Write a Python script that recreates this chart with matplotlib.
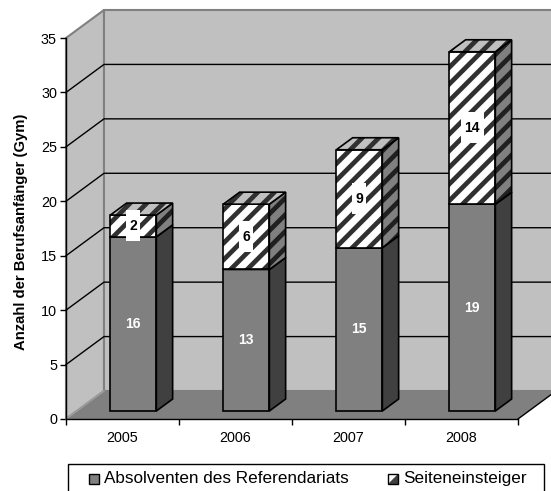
import matplotlib
matplotlib.use('Agg')
import matplotlib.pyplot as plt
from matplotlib.patches import Polygon, Rectangle

plt.rcParams['font.family'] = ['Liberation Sans', 'DejaVu Sans']
plt.rcParams['hatch.linewidth'] = 3.4

years = ['2005', '2006', '2007', '2008']
absolventen = [16, 13, 15, 19]
seiten = [2, 6, 9, 14]
yticks = [0, 5, 10, 15, 20, 25, 30, 35]
ytitle = 'Anzahl der Berufsanfänger (Gym)'
legend_labels = ['Absolventen des Referendariats', 'Seiteneinsteiger']

W, H = 551, 491
fig = plt.figure(figsize=(W / 100, H / 100), dpi=100)
L, R, B, T = 66, 518, 419, 38
ax = fig.add_axes([L / W, 1 - B / H, (R - L) / W, (B - T) / H])
ax.set_xlim(-0.5, 3.5)
ax.set_ylim(0, 35)
ax.patch.set_visible(False)
for s in ['top', 'right']:
    ax.spines[s].set_visible(False)
for s in ['left', 'bottom']:
    ax.spines[s].set_color('black')
    ax.spines[s].set_linewidth(1.0)
    ax.spines[s].set_zorder(5)

DX = 38 / ((R - L) / 4)
DY = 28 / ((B - T) / 35)
WALL = '#c0c0c0'
FLOOR = '#808080'
EDGE = '#808080'


def poly(pts, z=1, **kw):
    p = Polygon(pts, closed=True, clip_on=False, zorder=z, **kw)
    ax.add_patch(p)
    return p


# walls and floor
poly([(-0.5, 0), (-0.5, 35), (-0.5 + DX, 35 + DY), (-0.5 + DX, DY)], facecolor=WALL, edgecolor=EDGE, linewidth=1.5)
poly([(-0.5 + DX, DY), (-0.5 + DX, 35 + DY), (3.5 + DX, 35 + DY), (3.5 + DX, DY)], facecolor=WALL, edgecolor=EDGE, linewidth=1.5)
poly([(-0.5, 0), (-0.5 + DX, DY), (3.5 + DX, DY), (3.5, 0)], facecolor=FLOOR, edgecolor='none')
ax.plot([3.5, 3.5 + DX], [0, DY], color='black', lw=1.0, clip_on=False, zorder=3)
ax.plot([-0.5, -0.5 + DX], [0, DY], color='#a0a0a0', lw=1.0, clip_on=False, zorder=3)

# gridlines
for v in yticks[1:-1]:
    ax.plot([-0.5, -0.5 + DX, 3.5 + DX], [v, v + DY, v + DY], color='black', lw=1.0, clip_on=False, zorder=2)

# bars
BW = 0.407
D0 = 8 / 28
D1 = 20 / 28


def box(x, y0, y1, front, side, top, hatched):
    xl = x - BW / 2 + D0 * DX
    xr = xl + BW
    oy = D0 * DY
    ddx = (D1 - D0) * DX
    ddy = (D1 - D0) * DY
    for pts, col in [
        ([(xl, y0 + oy), (xr, y0 + oy), (xr, y1 + oy), (xl, y1 + oy)], front),
        ([(xr, y0 + oy), (xr + ddx, y0 + oy + ddy), (xr + ddx, y1 + oy + ddy), (xr, y1 + oy)], side),
        ([(xl, y1 + oy), (xr, y1 + oy), (xr + ddx, y1 + oy + ddy), (xl + ddx, y1 + oy + ddy)], top),
    ]:
        if hatched:
            poly(pts, z=4, facecolor=col[0], edgecolor=col[1], hatch='//', linewidth=0)
            poly(pts, z=4, facecolor='none', edgecolor='black', linewidth=1.2)
        else:
            poly(pts, z=4, facecolor=col, edgecolor='black', linewidth=1.2)
    return (xl + xr) / 2, oy


for i, (a, b) in enumerate(zip(absolventen, seiten)):
    cx, oy = box(i, 0, a, '#808080', '#404040', '#808080', False)
    box(i, a, a + b, ('white', '#303030'), ('#808080', '#202020'), ('#c0c0c0', '#303030'), True)
    ax.text(cx, a / 2 + oy, str(a), color='white', fontsize=10, fontweight='bold', ha='center', va='center', zorder=6)
    yc = a + b / 2 + oy
    bw = 0.124 if b < 10 else 0.2
    ax.add_patch(Rectangle((cx - bw / 2, yc - 1.4), bw, 2.85, facecolor='white', edgecolor='none', zorder=5.5, clip_on=False))
    ax.text(cx, yc, str(b), color='black', fontsize=10, fontweight='bold', ha='center', va='center', zorder=6)

# axes ticks
ax.set_yticks(yticks)
ax.set_xticks([-0.5, 0.5, 1.5, 2.5, 3.5])
ax.set_xticklabels([])
ax.tick_params(axis='both', length=4.5, width=1.0, direction='out', color='black')
ax.tick_params(axis='y', labelsize=10.4, pad=2)
for i, y in enumerate(years):
    ax.text(i, -1.75, y, fontsize=10.4, ha='center', va='center')
ax.set_ylabel(ytitle, fontsize=10.7, fontweight='bold')
ax.yaxis.set_label_coords((28 - L) / (R - L), 0.49)

# legend
lax = fig.add_axes([0, 0, 1, 1], zorder=10)
lax.set_xlim(0, W)
lax.set_ylim(H, 0)
lax.axis('off')
lax.patch.set_visible(False)
lax.add_patch(Rectangle((67.5, 463.5), 476, 40, facecolor='white', edgecolor='black', linewidth=1.0))
lax.add_patch(Rectangle((88.5, 473.5), 10, 10, facecolor='#808080', edgecolor='black', linewidth=1.0))
lax.add_patch(Polygon([(387.5, 473.5), (397.5, 473.5), (387.5, 483.5)], closed=True, facecolor='white', edgecolor='none'))
lax.add_patch(Polygon([(397.5, 473.5), (397.5, 483.5), (387.5, 483.5)], closed=True, facecolor='#404040', edgecolor='none'))
lax.add_patch(Rectangle((387.5, 473.5), 10, 10, facecolor='none', edgecolor='black', linewidth=1.0))
lax.text(104, 478.5, legend_labels[0], fontsize=12.3, va='center', ha='left')
lax.text(403, 478.5, legend_labels[1], fontsize=12.3, va='center', ha='left')

fig.savefig('out.png', dpi=100)
